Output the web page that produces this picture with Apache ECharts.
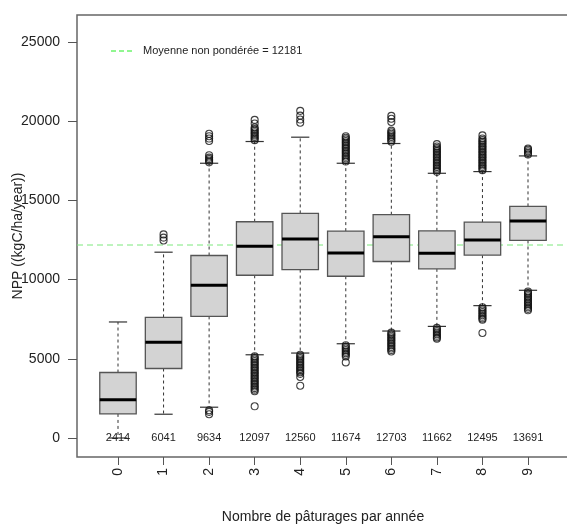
<!DOCTYPE html>
<html>
<head>
<meta charset="utf-8">
<script src="https://cdn.jsdelivr.net/npm/echarts@6/dist/echarts.min.js"></script>
<style>html,body{margin:0;padding:0;background:#fff;}#c{width:567px;height:524px;}</style>
</head>
<body>
<div id="c"></div>
<script>
// ---- data ----
const categories = ['0','1','2','3','4','5','6','7','8','9'];
const whiskerLow  = [0, 1500, 1943, 5253, 5361, 5949, 6751, 7044, 8354, 9323];
const q1          = [1519, 4386, 7677, 10272, 10633, 10209, 11139, 10677, 11540, 12468];
const medians     = [2414, 6041, 9634, 12097, 12560, 11674, 12703, 11662, 12495, 13691];
const q3          = [4133, 7614, 11519, 13650, 14177, 13058, 14093, 13079, 13629, 14620];
const whiskerHigh = [7323, 11728, 17342, 18714, 18987, 17342, 18588, 16709, 16816, 17805];
const outliersHigh = [
  [],
  [12470, 12650, 12850],
  [17400, 17500, 17600, 17700, 17850, 18750, 18900, 19050, 19200],
  [18800, 18900, 19000, 19100, 19200, 19300, 19400, 19500, 19600, 19850, 20080],
  [19900, 20100, 20350, 20650],
  [17450, 17550, 17650, 17750, 17850, 17950, 18050, 18150, 18250, 18350, 18450, 18550, 18650, 18750, 18850, 18950, 19050],
  [18700, 18800, 18900, 19000, 19100, 19200, 19300, 19400, 19950, 20150, 20330],
  [16800, 16900, 17000, 17100, 17200, 17300, 17400, 17500, 17600, 17700, 17800, 17900, 18000, 18100, 18200, 18300, 18400, 18550],
  [16900, 17000, 17100, 17200, 17300, 17400, 17500, 17600, 17700, 17800, 17900, 18000, 18100, 18200, 18300, 18400, 18500, 18600, 18700, 18800, 18900, 19100],
  [17900, 18000, 18100, 18200, 18270]
];
const outliersLow = [
  [],
  [],
  [1500, 1650, 1750],
  [5150, 5050, 4950, 4850, 4750, 4650, 4550, 4450, 4350, 4250, 4150, 4050, 3950, 3850, 3750, 3650, 3550, 3450, 3350, 3250, 3150, 3050, 2950, 2000],
  [5250, 5150, 5050, 4950, 4850, 4750, 4650, 4550, 4450, 4350, 4250, 4150, 4050, 3850, 3300],
  [5850, 5750, 5650, 5550, 5450, 5350, 5250, 5150, 4770],
  [6650, 6550, 6450, 6350, 6250, 6150, 6050, 5950, 5850, 5750, 5650, 5550, 5460],
  [6950, 6850, 6750, 6650, 6550, 6450, 6350, 6270],
  [8250, 8150, 8050, 7950, 7850, 7750, 7650, 7550, 7470, 6630],
  [9250, 9150, 9050, 8950, 8850, 8750, 8650, 8550, 8450, 8350, 8250, 8150, 8060]
];
const meanValue = 12181;
const yTicks = [0, 5000, 10000, 15000, 20000, 25000];
const legendText = 'Moyenne non pondérée = ' + meanValue;

// ---- build ----
const X_MIN = -0.9, X_MAX = 9.9;
const boxData = categories.map((c, i) => [i, whiskerLow[i], q1[i], medians[i], q3[i], whiskerHigh[i]]);
const outData = [];
categories.forEach((c, i) => {
  outliersHigh[i].forEach(v => outData.push([i, v]));
  outliersLow[i].forEach(v => outData.push([i, v]));
});
const xIdx = categories.map((c, i) => i);
const FONT = 'Liberation Sans, Arial, sans-serif';

function renderBox(params, api) {
  const x = api.value(0);
  const pLo = api.coord([x, api.value(1)]);
  const pQ1 = api.coord([x, api.value(2)]);
  const pMed = api.coord([x, api.value(3)]);
  const pQ3 = api.coord([x, api.value(4)]);
  const pHi = api.coord([x, api.value(5)]);
  const pZero = api.coord([x, 0]);
  const unit = api.size([1, 0])[0];
  const hw = unit * 0.4;
  const cw = unit * 0.2;
  const cx = pMed[0];
  const dash = {stroke: '#333', lineWidth: 1, lineDash: [3, 3]};
  const solid = {stroke: '#333', lineWidth: 1.2};
  return {
    type: 'group',
    children: [
      {type: 'line', shape: {x1: cx, y1: pQ3[1], x2: cx, y2: pHi[1]}, style: dash},
      {type: 'line', shape: {x1: cx, y1: pQ1[1], x2: cx, y2: pLo[1]}, style: dash},
      {type: 'line', shape: {x1: cx - cw, y1: pHi[1], x2: cx + cw, y2: pHi[1]}, style: solid},
      {type: 'line', shape: {x1: cx - cw, y1: pLo[1], x2: cx + cw, y2: pLo[1]}, style: solid},
      {type: 'rect', shape: {x: cx - hw, y: pQ3[1], width: 2 * hw, height: pQ1[1] - pQ3[1]},
        style: {fill: '#d3d3d3', stroke: '#555', lineWidth: 1.3}},
      {type: 'line', shape: {x1: cx - hw, y1: pMed[1], x2: cx + hw, y2: pMed[1]},
        style: {stroke: '#000', lineWidth: 3}},
      {type: 'text', x: cx, y: pZero[1],
        style: {text: String(api.value(3)), fill: '#222', font: '11px ' + FONT, align: 'center', verticalAlign: 'middle'}}
    ]
  };
}

const chart = echarts.init(document.getElementById('c'), null, {renderer: 'canvas'});
chart.setOption({
  animation: false,
  backgroundColor: '#fff',
  grid: {left: 77, top: 15, width: 492, height: 442, show: true, borderColor: '#666', borderWidth: 1.5,
         containLabel: false, outerBoundsMode: 'none'},
  xAxis: {
    type: 'value', min: X_MIN, max: X_MAX,
    name: 'Nombre de pâturages par année', nameLocation: 'middle', nameGap: 53, nameMoveOverlap: false,
    nameTextStyle: {fontSize: 14, color: '#222', fontFamily: FONT},
    axisLine: {show: false, onZero: false},
    splitLine: {show: false},
    axisTick: {show: true, length: 8, customValues: xIdx, lineStyle: {color: '#555'}},
    axisLabel: {rotate: 90, margin: 11, fontSize: 14, color: '#222', fontFamily: FONT,
      customValues: xIdx, formatter: v => categories[Math.round(v)]}
  },
  yAxis: {
    type: 'value', min: -1200, max: 26700,
    name: 'NPP ((kgC/ha/year))', nameLocation: 'middle', nameGap: 52, nameMoveOverlap: false,
    nameTextStyle: {fontSize: 14, color: '#222', fontFamily: FONT},
    axisLine: {show: false, onZero: false},
    splitLine: {show: false},
    axisTick: {show: true, length: 9, customValues: yTicks, lineStyle: {color: '#555'}},
    axisLabel: {margin: 17, fontSize: 14, color: '#222', fontFamily: FONT, customValues: yTicks,
      formatter: v => String(v)}
  },
  graphic: [
    {type: 'line', shape: {x1: 111, y1: 51, x2: 133, y2: 51}, style: {stroke: '#22ee22', lineWidth: 1, lineDash: [5, 3]}},
    {type: 'text', x: 143, y: 51, style: {text: legendText, fill: '#222', font: '11px ' + FONT, verticalAlign: 'middle'}}
  ],
  series: [
    {
      type: 'line', data: [[X_MIN, meanValue], [X_MAX, meanValue]], silent: true, symbol: 'none', z: 1,
      lineStyle: {color: '#7de87d', type: [6, 4], width: 1}
    },
    {type: 'custom', renderItem: renderBox, data: boxData, silent: true, z: 3},
    {type: 'scatter', data: outData, symbol: 'circle', symbolSize: 7, silent: true, z: 4,
      itemStyle: {color: 'transparent', borderColor: '#111', borderWidth: 1.1}}
  ]
});
</script>
</body>
</html>
